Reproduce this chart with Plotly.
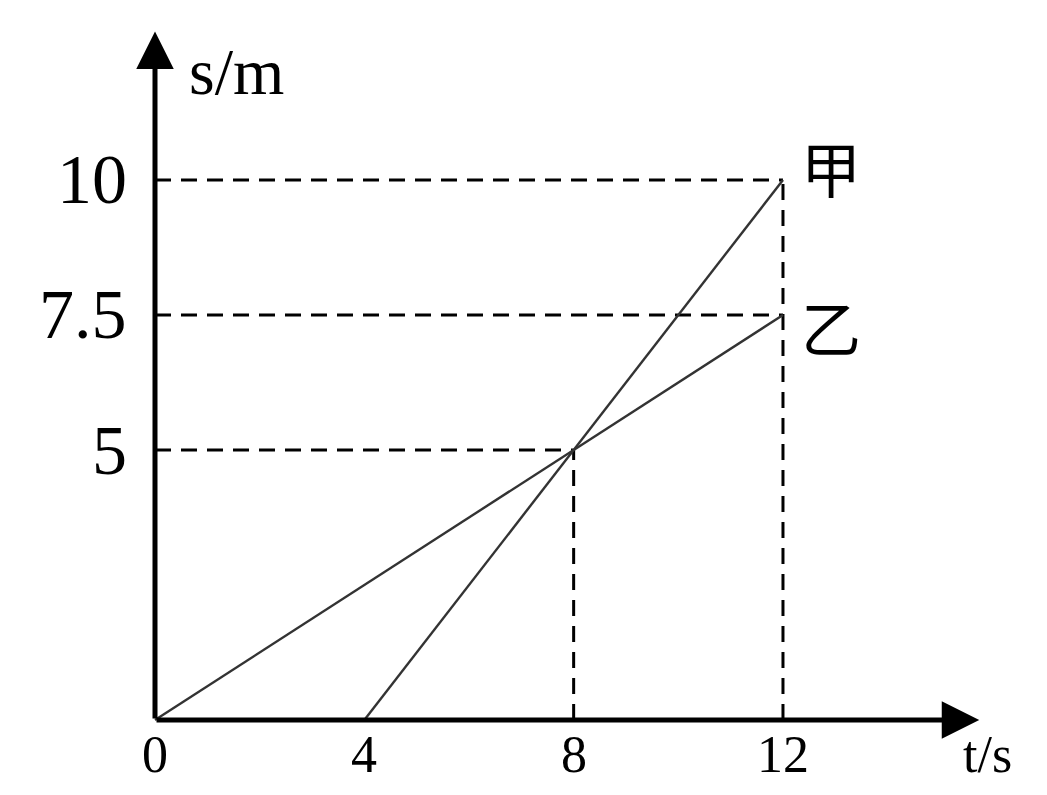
import plotly.graph_objects as go

# s-t graph data
t_jia = [4, 12]
s_jia = [0, 10]
t_yi = [0, 12]
s_yi = [0, 7.5]

x_ticks = [0, 4, 8, 12]
x_tick_labels = ["0", "4", "8", "12"]
y_ticks = [5, 7.5, 10]
y_tick_labels = ["5", "7.5", "10"]

# dashed guides: (t at end, s)
guide_h = [(12, 10), (12, 7.5), (8, 5)]
guide_v = [(8, 5), (12, 10)]

serif = "Liberation Serif, Times New Roman, serif"
cjk = "Noto Sans CJK SC"

fig = go.Figure()

for t_end, s in guide_h:
    fig.add_trace(go.Scatter(x=[0, t_end], y=[s, s], mode="lines",
                             line=dict(color="black", width=3, dash="16px,10px")))
for t, s_end in guide_v:
    fig.add_trace(go.Scatter(x=[t, t], y=[0, s_end], mode="lines",
                             line=dict(color="black", width=3, dash="16px,10px")))

fig.add_trace(go.Scatter(x=t_jia, y=s_jia, mode="lines", line=dict(color="#333333", width=2.4)))
fig.add_trace(go.Scatter(x=t_yi, y=s_yi, mode="lines", line=dict(color="#333333", width=2.4)))

# axes with arrows
fig.add_annotation(x=15.75, y=0, ax=0, ay=0, axref="x", ayref="y", xref="x", yref="y",
                   showarrow=True, arrowhead=2, arrowsize=1.5, arrowwidth=5, arrowcolor="black", text="")
fig.add_annotation(x=0, y=12.75, ax=0, ay=0, axref="x", ayref="y", xref="x", yref="y",
                   showarrow=True, arrowhead=2, arrowsize=1.5, arrowwidth=5, arrowcolor="black", text="")

for v, lab in zip(x_ticks, x_tick_labels):
    fig.add_annotation(x=v, y=-1.2, text=lab, showarrow=False, xanchor="center", yanchor="bottom",
                       font=dict(family=serif, size=52, color="black"))
for v, lab in zip(y_ticks, y_tick_labels):
    fig.add_annotation(x=-0.5, y=v, text=lab, showarrow=False, xanchor="right", yanchor="middle",
                       font=dict(family=serif, size=70, color="black"))

fig.add_annotation(x=0.62, y=12.0, text="s/m", showarrow=False, xanchor="left", yanchor="middle",
                   font=dict(family=serif, size=66, color="black"))
fig.add_annotation(x=15.4, y=-1.2, text="t/s", showarrow=False, xanchor="left", yanchor="bottom",
                   font=dict(family=serif, size=52, color="black"))
fig.add_annotation(x=12.3, y=10.25, text="甲", showarrow=False, xanchor="left", yanchor="middle",
                   font=dict(family=cjk, size=60, color="black"))
fig.add_annotation(x=12.3, y=7.3, text="乙", showarrow=False, xanchor="left", yanchor="middle",
                   font=dict(family=cjk, size=60, color="black"))

fig.update_layout(
    width=1047, height=795,
    margin=dict(l=0, r=0, t=0, b=0),
    paper_bgcolor="white", plot_bgcolor="white",
    showlegend=False,
    xaxis=dict(range=[-2.809, 17.198], visible=False),
    yaxis=dict(range=[-1.537, 13.185], visible=False),
)

fig.write_html("out.html")
